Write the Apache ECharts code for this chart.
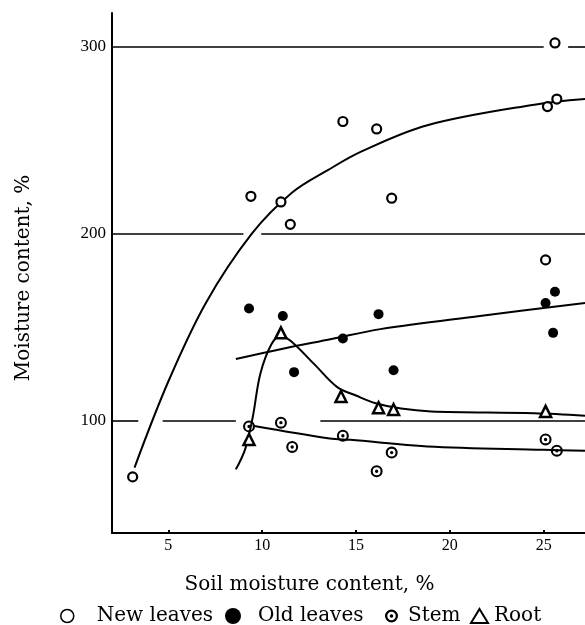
<!DOCTYPE html>
<html>
<head>
<meta charset="utf-8">
<script src="https://cdn.jsdelivr.net/npm/echarts@6/dist/echarts.min.js"></script>
<style>
  html, body { margin: 0; padding: 0; background: #fff; }
  #main { width: 585px; height: 625px; }
</style>
</head>
<body>
<div id="main"></div>
<script>
// tick labels
const xTicks = [5, 10, 15, 20, 25];
const yTicks = [100, 200, 300];

// measured points [soil moisture %, moisture content %]
const newLeaves = [[3.1, 70], [9.4, 220], [11.0, 217], [11.5, 205], [14.3, 260], [16.1, 256],
  [16.9, 219], [25.1, 186], [25.2, 268], [25.7, 272], [25.6, 302]];
const oldLeaves = [[9.3, 160], [11.1, 156], [11.7, 126], [14.3, 144], [16.2, 157], [17.0, 127],
  [25.1, 163], [25.6, 169], [25.5, 147]];
const stem = [[9.3, 97], [11.0, 99], [11.6, 86], [14.3, 92], [16.1, 73], [16.9, 83], [25.1, 90], [25.7, 84]];
const root = [[9.3, 90], [11.0, 147], [14.2, 113], [16.2, 107], [17.0, 106], [25.1, 105]];

// hand drawn trend curves
const newLeavesCurve = [[3.2, 75], [5.0, 121], [7.0, 163], [9.45, 200], [11.6, 222],
  [13.5, 234], [15.3, 244], [18.8, 258], [24.5, 269], [27.2, 272]];
const oldLeavesCurve = [[8.6, 133], [11.1, 138.5], [13.7, 143.7], [16.3, 149], [21.6, 156], [27.2, 163]];
const rootCurve = [[8.6, 74], [9.1, 85], [9.5, 102], [9.9, 125], [10.5, 141], [11.0, 145.5], [11.6, 142],
  [12.8, 130], [14.0, 118], [15.0, 113.5], [16.0, 109.5], [17.4, 106.5], [19.0, 105], [24.5, 104], [27.2, 102.7]];
const stemCurve = [[9.5, 97.3], [13.6, 90.5], [14.7, 89.8], [18.8, 86.3], [25.0, 84.5], [27.2, 84]];

// horizontal rules as printed (broken where curves cross): [xFrom, xTo, y]
const ruleSegments = [[2, 3.4, 100], [4.7, 8.6, 100], [13.1, 27.2, 100],
  [2, 9.0, 200], [9.95, 27.2, 200], [2, 25.0, 300], [26.3, 27.2, 300]];

const serif = 'DejaVu Serif';
const numFont = 'Liberation Serif';
const stemSymbol = 'path://M0,-10A10,10,0,1,1,0,10A10,10,0,1,1,0,-10ZM0,-6.5A6.5,6.5,0,1,0,0,6.5A6.5,6.5,0,1,0,0,-6.5ZM0,-2.8A2.8,2.8,0,1,1,0,2.8A2.8,2.8,0,1,1,0,-2.8Z';

const chart = echarts.init(document.getElementById('main'));

function curve(data) {
  return {
    type: 'line', data: data, smooth: 0.35, showSymbol: false, silent: true, z: 2,
    lineStyle: { color: '#000', width: 2 }
  };
}

function legendItem(name, left, w, h, pad, style) {
  return {
    data: [name], left: left, top: 606, padding: 0, selectedMode: false,
    itemWidth: w, itemHeight: h, itemStyle: style,
    textStyle: { fontFamily: serif, fontSize: 20, color: '#000', padding: [0, 0, 0, pad] }
  };
}

const rulesSeries = curve(oldLeavesCurve);
rulesSeries.markLine = {
  silent: true, symbol: ['none', 'none'], label: { show: false },
  lineStyle: { color: '#000', width: 1.6, type: 'solid' },
  data: ruleSegments.map(s => [{ coord: [s[0], s[2]] }, { coord: [s[1], s[2]] }])
};

const option = {
  backgroundColor: '#fff',
  animation: false,
  grid: { left: 112, right: 0, top: 13, bottom: 92 },
  xAxis: {
    type: 'value', min: 2, max: 27.2,
    name: 'Soil moisture content, %', nameLocation: 'middle', nameGap: 42,
    nameTextStyle: { fontFamily: serif, fontSize: 20, color: '#000', padding: [0, 78, 0, 0] },
    axisLine: { lineStyle: { color: '#000', width: 2 } },
    axisTick: { inside: true, length: 3, customValues: xTicks, lineStyle: { color: '#000', width: 2 } },
    axisLabel: { customValues: xTicks, margin: 5, fontFamily: numFont, fontSize: 16, color: '#000' },
    splitLine: { show: false }
  },
  yAxis: {
    type: 'value', min: 40, max: 318,
    name: 'Moisture content, %', nameLocation: 'middle', nameGap: 78,
    nameTextStyle: { fontFamily: serif, fontSize: 20, color: '#000', padding: [0, 10, 0, 0] },
    axisLine: { show: true, lineStyle: { color: '#000', width: 2 } },
    axisTick: { show: false },
    axisLabel: { customValues: yTicks, margin: 6, fontFamily: numFont, fontSize: 17, color: '#000' },
    splitLine: { show: false }
  },
  legend: [
    legendItem('New leaves', 60, 13, 13, 18, { color: '#fff', borderColor: '#000', borderWidth: 1.5 }),
    legendItem('Old leaves', 225, 16, 16, 12, { color: '#000', borderWidth: 0 }),
    legendItem('Stem', 385, 13, 13, 5, { color: '#000', borderWidth: 0 }),
    legendItem('Root', 470, 17, 14, 1, { color: '#fff', borderColor: '#000', borderWidth: 2 })
  ],
  series: [
    curve(newLeavesCurve),
    rulesSeries,
    curve(rootCurve),
    curve(stemCurve),
    {
      name: 'New leaves', type: 'scatter', data: newLeaves, symbol: 'circle', symbolSize: 9, z: 5,
      itemStyle: { color: '#fff', borderColor: '#000', borderWidth: 2.2, opacity: 1 }
    },
    {
      name: 'Old leaves', type: 'scatter', data: oldLeaves, symbol: 'circle', symbolSize: 10, z: 5,
      itemStyle: { color: '#000', opacity: 1 }
    },
    {
      name: 'Stem', type: 'scatter', data: stem, symbol: stemSymbol, symbolSize: 12, z: 5,
      itemStyle: { color: '#000', opacity: 1 }
    },
    {
      name: 'Root', type: 'scatter', data: root, symbol: 'triangle', symbolSize: 11, z: 5,
      itemStyle: { color: '#fff', borderColor: '#000', borderWidth: 2.5, opacity: 1 }
    }
  ]
};

chart.setOption(option);
</script>
</body>
</html>
